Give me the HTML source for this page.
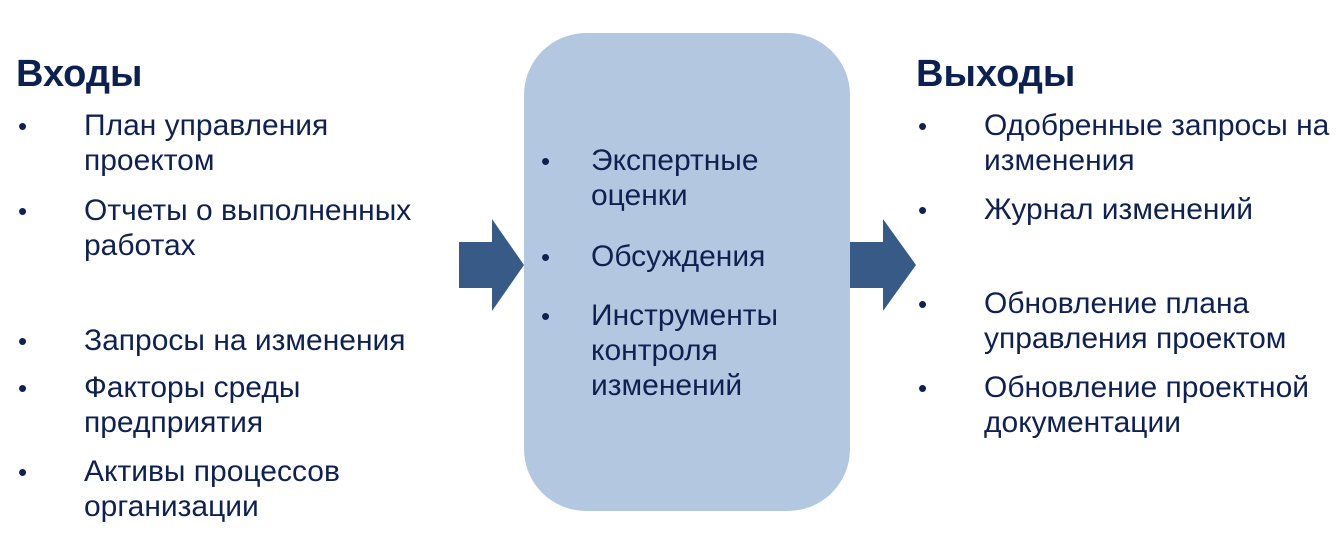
<!DOCTYPE html>
<html><head><meta charset="utf-8"><style>
body{margin:0;width:1342px;height:556px;background:#fff;position:relative;overflow:hidden;font-family:"Liberation Sans",Arial,sans-serif;color:#0f2150}
.t{position:absolute;font-size:30px;line-height:35px;white-space:nowrap}
.h{position:absolute;font-size:38px;font-weight:bold;line-height:40px;white-space:nowrap;color:#0c2150}
.b{position:absolute;font-size:26px;line-height:35px}
#box{position:absolute;left:524px;top:33px;width:326px;height:478px;border-radius:62px;background:#b4c7e1}
</style></head><body>
<div id="box"></div>
<svg style="position:absolute;left:0;top:0" width="1342" height="556">
<polygon points="459,242 492,242 492,219 524,265 492,311 492,288 459,288" fill="#385a87"/>
<polygon points="850,242 883,242 883,219 916,265 883,311 883,288 850,288" fill="#385a87"/>
</svg>
<div class="h" style="left:16px;top:54px">Входы</div>
<div class="b" style="left:18px;top:109px">•</div><div class="t" style="left:84px;top:108px">План управления<br>проектом</div>
<div class="b" style="left:18px;top:194px">•</div><div class="t" style="left:84px;top:193px">Отчеты о выполненных<br>работах</div>
<div class="b" style="left:18px;top:324px">•</div><div class="t" style="left:84px;top:323px">Запросы на изменения</div>
<div class="b" style="left:18px;top:371px">•</div><div class="t" style="left:84px;top:370px">Факторы среды<br>предприятия</div>
<div class="b" style="left:18px;top:455px">•</div><div class="t" style="left:84px;top:454px">Активы процессов<br>организации</div>

<div class="b" style="left:541px;top:144px">•</div><div class="t" style="left:591px;top:143px">Экспертные<br>оценки</div>
<div class="b" style="left:541px;top:240px">•</div><div class="t" style="left:591px;top:239px">Обсуждения</div>
<div class="b" style="left:541px;top:299px">•</div><div class="t" style="left:591px;top:298px">Инструменты<br>контроля<br>изменений</div>

<div class="h" style="left:916px;top:54px">Выходы</div>
<div class="b" style="left:918px;top:109px">•</div><div class="t" style="left:984px;top:108px">Одобренные запросы на<br>изменения</div>
<div class="b" style="left:918px;top:193px">•</div><div class="t" style="left:984px;top:192px">Журнал изменений</div>
<div class="b" style="left:918px;top:287px">•</div><div class="t" style="left:984px;top:286px">Обновление плана<br>управления проектом</div>
<div class="b" style="left:918px;top:371px">•</div><div class="t" style="left:984px;top:370px">Обновление проектной<br>документации</div>
</body></html>
